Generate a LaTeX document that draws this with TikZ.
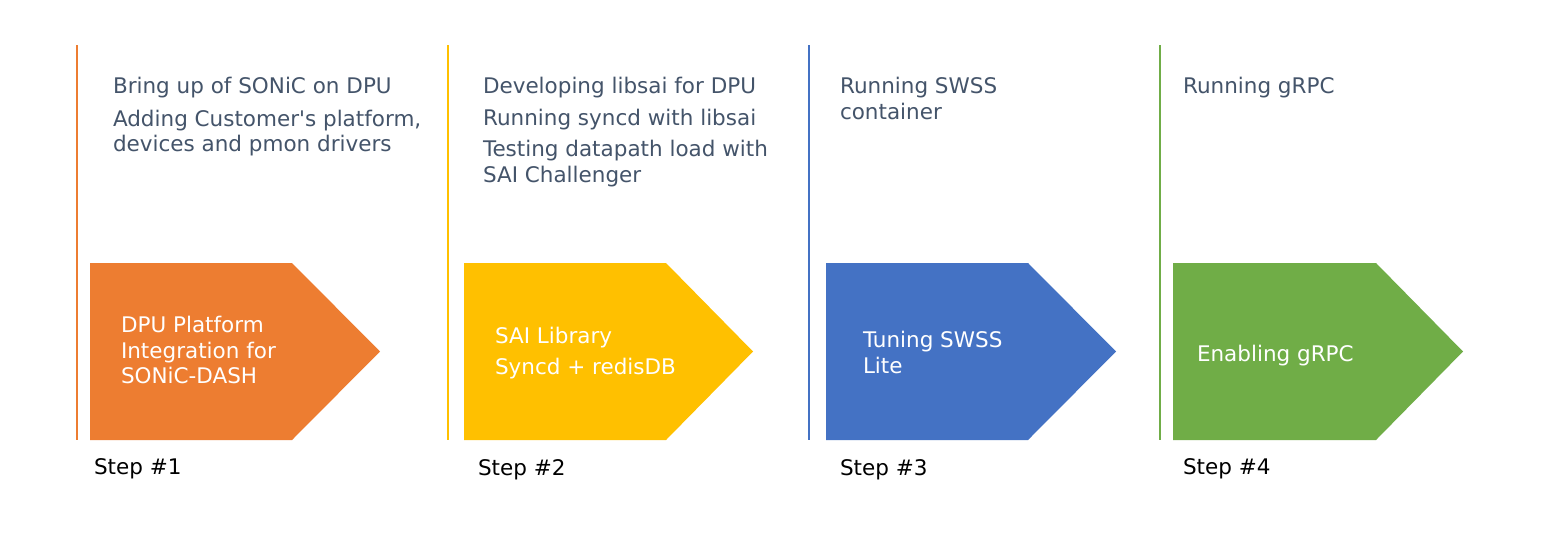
\documentclass[tikz,border=0pt]{standalone}
\usepackage{fontspec}
\setmainfont{DejaVu Sans}
\definecolor{cOrange}{HTML}{ED7D31}
\definecolor{cYellow}{HTML}{FFC000}
\definecolor{cBlue}{HTML}{4472C4}
\definecolor{cGreen}{HTML}{70AD47}
\definecolor{cText}{HTML}{44546A}
\begin{document}
\begin{tikzpicture}[x=1pt,y=-1pt,
  every node/.style={inner sep=0pt,outer sep=0pt,anchor=base west},
  toptext/.style={text=cText,font=\fontsize{21.5}{26}\selectfont},
  arrtext/.style={text=white,font=\fontsize{21.5}{26}\selectfont},
  steplabel/.style={text=black,font=\fontsize{21.5}{26}\selectfont},
  divider/.style={line width=1.6pt},
]
\useasboundingbox (0,0) rectangle (1550,539);
\fill[white] (0,0) rectangle (1550,539);

% dividers
\coordinate (d1t) at (77,45);   \coordinate (d1b) at (77,440);
\coordinate (d2t) at (448,45);  \coordinate (d2b) at (448,440);
\coordinate (d3t) at (809,45);  \coordinate (d3b) at (809,440);
\coordinate (d4t) at (1160,45); \coordinate (d4b) at (1160,440);
\draw[divider,cOrange] (d1t) -- (d1b);
\draw[divider,cYellow] (d2t) -- (d2b);
\draw[divider,cBlue]   (d3t) -- (d3b);
\draw[divider,cGreen]  (d4t) -- (d4b);

% chevrons
\fill[cOrange] (90,263) -- (292,263) -- (380,351.5) -- (292,440) -- (90,440) -- cycle;
\fill[cYellow] (464,263) -- (666,263) -- (753,351.5) -- (666,440) -- (464,440) -- cycle;
\fill[cBlue]   (826,263) -- (1028,263) -- (1116,351.5) -- (1028,440) -- (826,440) -- cycle;
\fill[cGreen]  (1173,263) -- (1376,263) -- (1463,351.5) -- (1376,440) -- (1173,440) -- cycle;

% top texts
\node[toptext] (t1a) at (113,93)  {Bring up of SONiC on DPU};
\node[toptext] (t1b) at (113,126) {Adding Customer\textquotesingle s platform,};
\node[toptext] (t1c) at (113,151) {devices and pmon drivers};
\node[toptext] (t2a) at (483,93)  {Developing libsai for DPU};
\node[toptext] (t2b) at (483,125) {Running syncd with libsai};
\node[toptext] (t2c) at (483,156) {Testing datapath load with};
\node[toptext] (t2d) at (483,182) {SAI Challenger};
\node[toptext] (t3a) at (840,93)  {Running SWSS};
\node[toptext] (t3b) at (840,119) {container};
\node[toptext] (t4a) at (1183,93) {Running gRPC};

% arrow texts
\node[arrtext] (a1a) at (121,332) {DPU Platform};
\node[arrtext] (a1b) at (121,358) {Integration for};
\node[arrtext] (a1c) at (121,383) {SONiC-DASH};
\node[arrtext] (a2a) at (495,343) {SAI Library};
\node[arrtext] (a2b) at (495,374) {Syncd + redisDB};
\node[arrtext] (a3a) at (863,347) {Tuning SWSS};
\node[arrtext] (a3b) at (863,373) {Lite};
\node[arrtext] (a4a) at (1197,361) {Enabling gRPC};

% step labels
\node[steplabel] (s1) at (94,474)   {Step \#1};
\node[steplabel] (s2) at (478,475)  {Step \#2};
\node[steplabel] (s3) at (840,475)  {Step \#3};
\node[steplabel] (s4) at (1183,474) {Step \#4};
\end{tikzpicture}
\end{document}
